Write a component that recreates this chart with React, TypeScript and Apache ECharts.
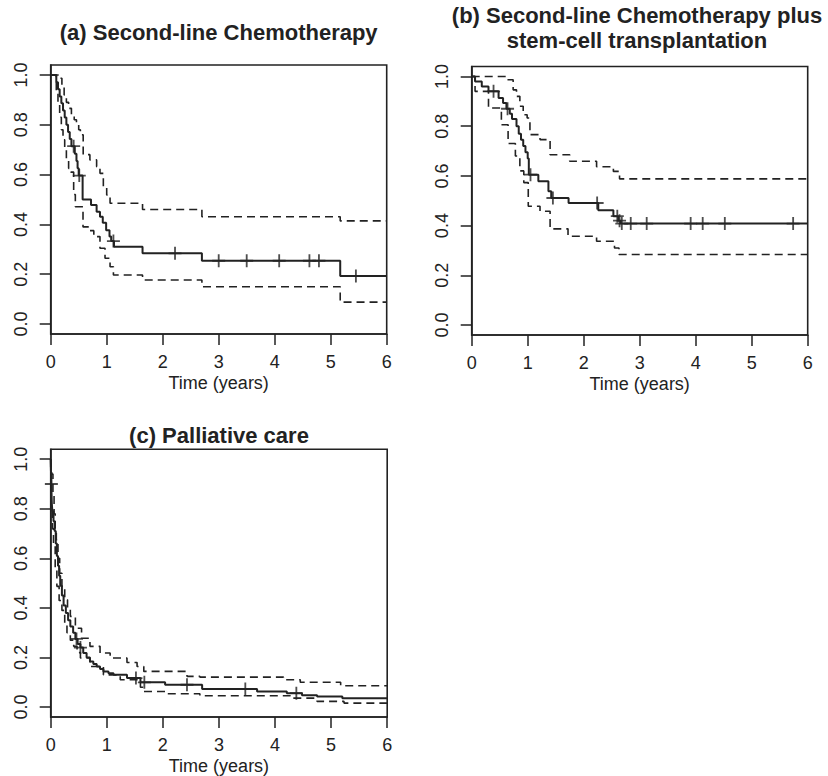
import React, { useEffect, useRef } from "react";
import * as echarts from "echarts";

// ---------- data ----------
const X_TICKS_MAX = 6;
const Y_TICKS = [0, 0.2, 0.4, 0.6, 0.8, 1.0];
const X_NAME = "Time (years)";
const TITLE_A = "(a) Second-line Chemotherapy";
const TITLE_B1 = "(b) Second-line Chemotherapy plus";
const TITLE_B2 = "stem-cell transplantation";
const TITLE_C = "(c) Palliative care";

// (a) Second-line chemotherapy: [time, survival from that time on]
const aSurv: [number, number][] = [
  [0, 1.0], [0.10, 0.971], [0.13, 0.943], [0.16, 0.914], [0.19, 0.886], [0.22, 0.857],
  [0.25, 0.829], [0.28, 0.800], [0.31, 0.771], [0.34, 0.743], [0.37, 0.714], [0.43, 0.684],
  [0.46, 0.655], [0.48, 0.625], [0.50, 0.596], [0.57, 0.500], [0.72, 0.478], [0.82, 0.451],
  [0.88, 0.431], [0.93, 0.407], [0.99, 0.377], [1.05, 0.351], [1.08, 0.333], [1.13, 0.310],
  [1.64, 0.284], [2.70, 0.254], [5.17, 0.193],
];
const aUpper: [number, number][] = [
  [0, 1.0], [0.17, 0.987], [0.20, 0.95], [0.24, 0.92], [0.28, 0.89], [0.32, 0.866],
  [0.37, 0.84], [0.42, 0.82], [0.46, 0.80], [0.50, 0.78], [0.53, 0.76], [0.58, 0.68],
  [0.70, 0.659], [0.82, 0.632], [0.88, 0.605], [0.94, 0.552], [1.00, 0.518], [1.06, 0.485],
  [1.64, 0.46], [2.70, 0.431], [5.17, 0.414],
];
const aLower: [number, number][] = [
  [0, 1.0], [0.10, 0.93], [0.13, 0.88], [0.16, 0.83], [0.19, 0.78], [0.22, 0.74],
  [0.25, 0.70], [0.28, 0.66], [0.32, 0.625], [0.36, 0.61], [0.41, 0.52], [0.44, 0.471],
  [0.577, 0.39], [0.68, 0.375], [0.77, 0.351], [0.88, 0.304], [0.97, 0.264], [1.06, 0.23],
  [1.12, 0.197], [1.64, 0.177], [2.70, 0.15], [5.17, 0.088],
];
const aCensor = [0.41, 0.51, 1.12, 2.22, 3.0, 3.5, 4.08, 4.62, 4.79, 5.45];

// (b) Second-line chemotherapy plus stem-cell transplantation
const bSurv: [number, number][] = [
  [0, 1.0], [0.06, 0.98], [0.18, 0.96], [0.30, 0.94], [0.48, 0.913], [0.56, 0.893],
  [0.62, 0.87], [0.68, 0.85], [0.72, 0.829], [0.80, 0.80], [0.84, 0.77], [0.88, 0.745],
  [0.92, 0.72], [0.96, 0.695], [1.00, 0.67], [1.02, 0.605], [1.19, 0.578], [1.37, 0.538],
  [1.42, 0.511], [1.73, 0.491], [2.26, 0.462], [2.53, 0.438], [2.62, 0.42], [2.66, 0.408],
];
const bUpper: [number, number][] = [
  [0, 1.0], [0.625, 0.987], [0.74, 0.946], [0.80, 0.92], [0.86, 0.88], [0.92, 0.846],
  [0.99, 0.833], [1.04, 0.766], [1.22, 0.746], [1.40, 0.685], [1.75, 0.659], [2.23, 0.637],
  [2.53, 0.618], [2.64, 0.588],
];
const bLower: [number, number][] = [
  [0, 1.0], [0.06, 0.94], [0.30, 0.873], [0.53, 0.806], [0.65, 0.73], [0.78, 0.68],
  [0.86, 0.62], [0.93, 0.573], [1.01, 0.478], [1.22, 0.458], [1.40, 0.387], [1.72, 0.357],
  [2.23, 0.337], [2.55, 0.31], [2.63, 0.284],
];
const bCensor = [0.39, 0.64, 1.05, 1.45, 2.24, 2.60, 2.64, 2.68, 2.84, 3.125, 3.91, 4.125, 4.52, 5.74];

// (c) Palliative care
const cSurv: [number, number][] = [
  [0, 1.0], [0.005, 0.95], [0.01, 0.90], [0.015, 0.86], [0.02, 0.82], [0.03, 0.79],
  [0.05, 0.75], [0.07, 0.71], [0.09, 0.66], [0.11, 0.61], [0.13, 0.57], [0.15, 0.53],
  [0.17, 0.49], [0.20, 0.45], [0.23, 0.41], [0.27, 0.38], [0.31, 0.35], [0.35, 0.325],
  [0.40, 0.30], [0.44, 0.275], [0.48, 0.255], [0.53, 0.24], [0.58, 0.218], [0.64, 0.20],
  [0.70, 0.184], [0.76, 0.174], [0.82, 0.164], [0.88, 0.154], [0.94, 0.144], [1.03, 0.137],
  [1.12, 0.13], [1.36, 0.117], [1.60, 0.10], [2.04, 0.09], [2.70, 0.073], [3.68, 0.063],
  [4.21, 0.056], [4.48, 0.048], [4.75, 0.043], [5.20, 0.036],
];
const cUpper: [number, number][] = [
  [0, 1.0], [0.01, 0.96], [0.02, 0.94], [0.04, 0.86], [0.06, 0.78], [0.08, 0.72],
  [0.10, 0.675], [0.13, 0.60], [0.16, 0.54], [0.20, 0.48], [0.25, 0.433], [0.30, 0.40],
  [0.35, 0.366], [0.44, 0.318], [0.55, 0.278], [0.70, 0.245], [0.88, 0.218], [1.06, 0.198],
  [1.36, 0.18], [1.54, 0.164], [1.66, 0.144], [2.43, 0.124], [2.66, 0.121], [4.15, 0.11],
  [4.45, 0.10], [5.17, 0.086],
];
const cLower: [number, number][] = [
  [0, 1.0], [0.005, 0.85], [0.01, 0.80], [0.03, 0.72], [0.05, 0.65], [0.08, 0.56],
  [0.11, 0.487], [0.15, 0.43], [0.20, 0.39], [0.25, 0.34], [0.29, 0.30], [0.35, 0.27],
  [0.41, 0.245], [0.47, 0.22], [0.53, 0.198], [0.70, 0.164], [0.94, 0.13], [1.24, 0.11],
  [1.60, 0.08], [1.66, 0.063], [2.07, 0.054], [2.66, 0.046], [4.27, 0.036], [4.75, 0.023],
  [5.23, 0.016],
];
const cCensor = [0.012, 0.46, 0.53, 1.52, 1.67, 2.43, 3.47, 4.38];

// ---------- helpers ----------
const INK = "#222";
const FONT = "'Liberation Sans', Arial, Helvetica, sans-serif";
const PLUS = "path://M4.3,0H5.7V4.3H10V5.7H5.7V10H4.3V5.7H0V4.3H4.3Z";

function stepAt(curve: [number, number][], t: number): number {
  let v = curve[0][1];
  for (const [x, y] of curve) {
    if (x <= t) v = y;
    else break;
  }
  return v;
}
function extend(curve: [number, number][]): [number, number][] {
  return [...curve, [X_TICKS_MAX, curve[curve.length - 1][1]]];
}

function panelSeries(
  idx: number,
  surv: [number, number][],
  upper: [number, number][],
  lower: [number, number][],
  censor: number[]
) {
  const base = {
    type: "line",
    xAxisIndex: idx,
    yAxisIndex: idx,
    step: "end",
    symbol: "none",
    silent: true,
  };
  const dashed = { color: INK, width: 1.6, type: [8, 5] };
  return [
    { ...base, data: extend(upper), lineStyle: dashed },
    { ...base, data: extend(lower), lineStyle: dashed },
    { ...base, data: extend(surv), lineStyle: { color: INK, width: 2 } },
    {
      type: "scatter",
      xAxisIndex: idx,
      yAxisIndex: idx,
      symbol: PLUS,
      symbolSize: 13,
      silent: true,
      itemStyle: { color: INK },
      data: censor.map((t) => [t, stepAt(surv, t)]),
    },
  ];
}

const GRIDS = [
  { left: 50.7, top: 65, width: 336, height: 269 },
  { left: 471.7, top: 66.5, width: 336, height: 268.5 },
  { left: 50.7, top: 449.3, width: 336.5, height: 268 },
];

export default function App() {
  const ref = useRef<HTMLDivElement>(null);
  useEffect(() => {
    document.body.style.margin = "0";
    if (!ref.current) return;
    const chart = echarts.init(ref.current, undefined, { renderer: "svg" });
    const grids = GRIDS.map((g) => ({
      ...g,
      show: true,
      borderColor: INK,
      borderWidth: 1.6,
      backgroundColor: "transparent",
      containLabel: false,
    }));
    const xAxes = GRIDS.map((_, i) => ({
      gridIndex: i,
      type: "value",
      min: 0,
      max: X_TICKS_MAX,
      interval: 1,
      axisLine: { show: true, onZero: false, lineStyle: { color: INK, width: 1.6 } },
      axisTick: { show: true, length: 11, inside: false, lineStyle: { color: INK, width: 1.5 } },
      axisLabel: { fontSize: 18, color: INK, margin: 19, fontFamily: FONT },
      splitLine: { show: false },
      name: X_NAME,
      nameLocation: "middle",
      nameGap: 40,
      nameTextStyle: { fontSize: 18, color: INK, fontFamily: FONT },
    }));
    const yAxes = GRIDS.map((_, i) => ({
      gridIndex: i,
      type: "value",
      min: -0.04,
      max: 1.04,
      axisLine: { show: true, onZero: false, lineStyle: { color: INK, width: 1.6 } },
      axisTick: {
        show: true,
        length: 11,
        inside: false,
        customValues: Y_TICKS,
        lineStyle: { color: INK, width: 1.5 },
      },
      axisLabel: {
        customValues: Y_TICKS,
        rotate: 90,
        fontSize: 18,
        color: INK,
        margin: 21,
        fontFamily: FONT,
        formatter: (v: number) => v.toFixed(1),
      },
      splitLine: { show: false },
    }));
    const titleStyle = (text: string) => ({
      text,
      font: `bold 22px ${FONT}`,
      fill: INK,
      align: "center",
      verticalAlign: "middle",
      textAlign: "center",
      textVerticalAlign: "middle",
    });
    chart.setOption({
      animation: false,
      backgroundColor: "#fff",
      grid: grids,
      xAxis: xAxes,
      yAxis: yAxes,
      graphic: [
        { type: "text", x: 218.7, y: 32, style: titleStyle(TITLE_A) },
        { type: "text", x: 637, y: 15.5, style: titleStyle(TITLE_B1) },
        { type: "text", x: 637, y: 40.5, style: titleStyle(TITLE_B2) },
        { type: "text", x: 219, y: 435, style: titleStyle(TITLE_C) },
      ],
      series: [
        ...panelSeries(0, aSurv, aUpper, aLower, aCensor),
        ...panelSeries(1, bSurv, bUpper, bLower, bCensor),
        ...panelSeries(2, cSurv, cUpper, cLower, cCensor),
      ],
    });
    return () => chart.dispose();
  }, []);
  return <div ref={ref} style={{ width: 828, height: 776, overflow: "hidden" }} />;
}
